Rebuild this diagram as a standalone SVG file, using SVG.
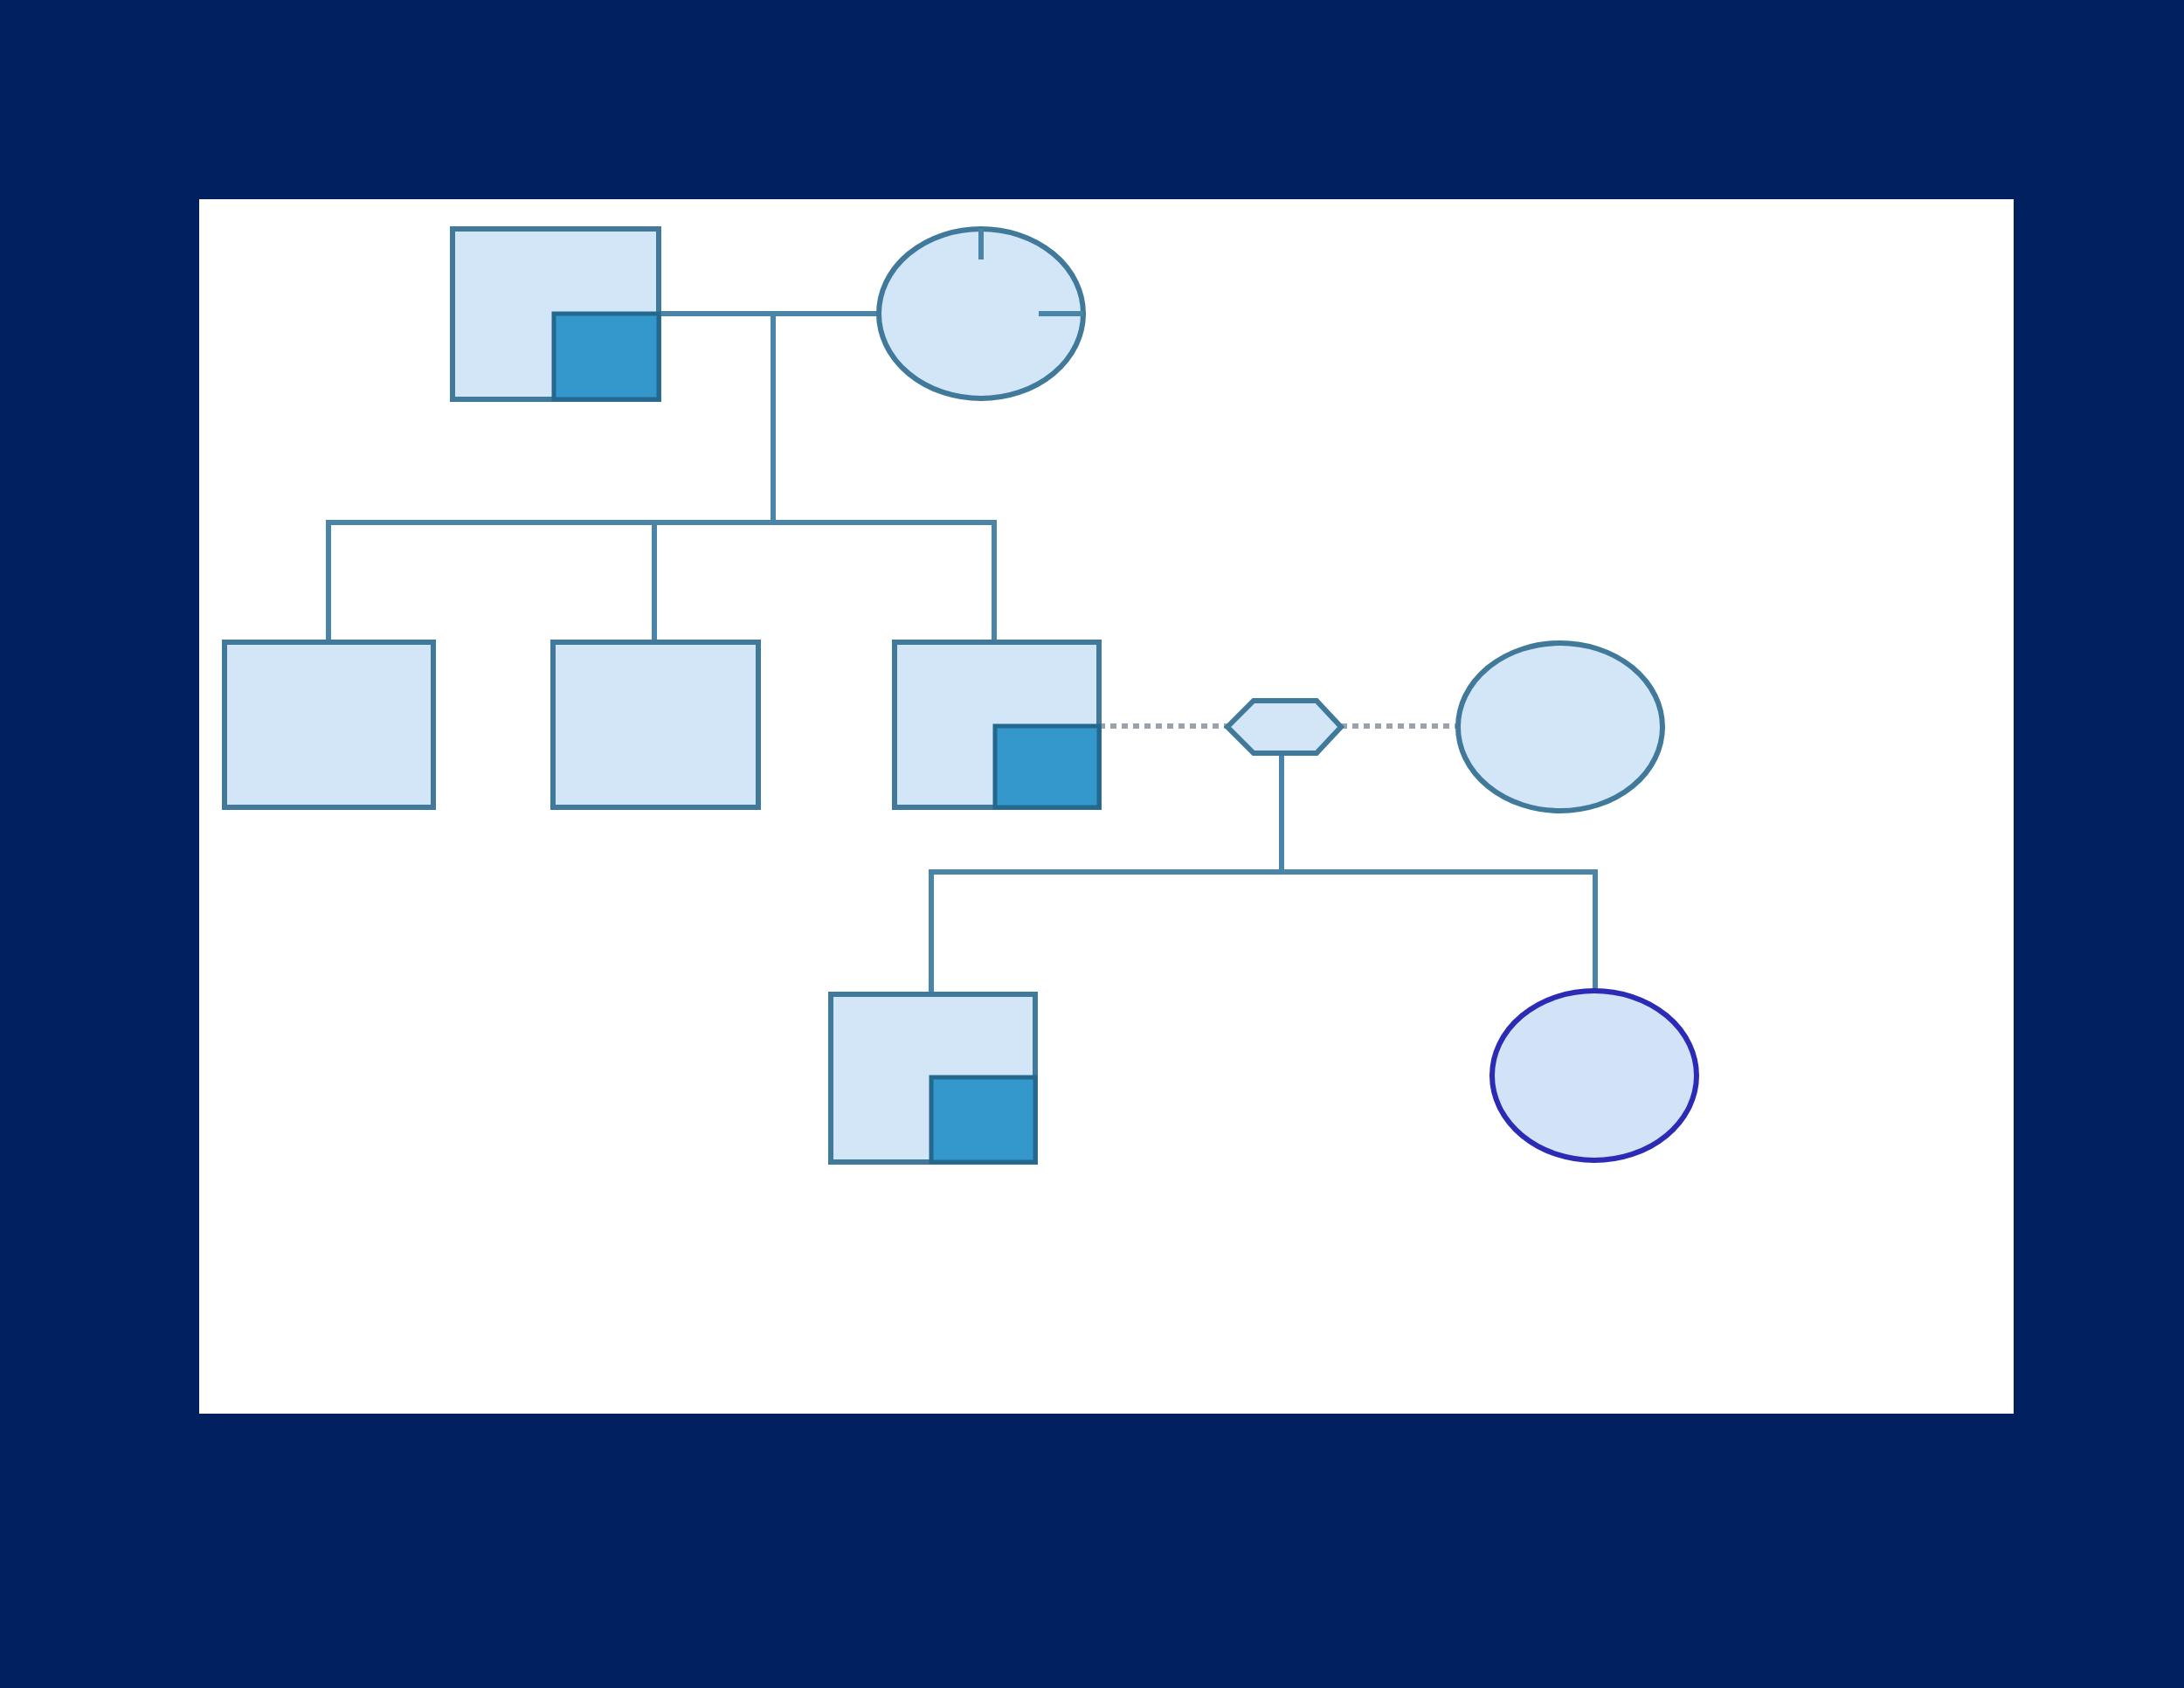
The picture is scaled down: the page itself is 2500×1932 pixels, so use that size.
<svg xmlns="http://www.w3.org/2000/svg" width="2500" height="1932" viewBox="0 0 2500 1932">
<style>
.sym{fill:#d2e6f7;stroke:#41799a;stroke-width:6}
.aff{fill:#3598cc;stroke:#25688e;stroke-width:5}
.ln{stroke:#4a85a8;stroke-width:6;fill:none}
.dot{stroke:#9aa3ab;stroke-width:6;stroke-dasharray:7 6;fill:none}
</style>
<rect x="0" y="0" width="2500" height="1932" fill="#00205f"/>
<rect x="228" y="228" width="2077" height="1390" fill="#ffffff"/>
<g id="connectors">
<line class="ln" x1="754" y1="359" x2="1006" y2="359"/>
<line class="ln" x1="885" y1="359" x2="885" y2="598"/>
<polyline class="ln" points="376,735 376,598 1138,598 1138,735"/>
<line class="ln" x1="749" y1="598" x2="749" y2="735"/>
<line class="dot" x1="1258" y1="831" x2="1405" y2="831"/>
<line class="dot" x1="1535" y1="831" x2="1669" y2="831"/>
<line class="ln" x1="1467" y1="862" x2="1467" y2="998"/>
<polyline class="ln" points="1066,1138 1066,998 1826,998 1826,1135"/>
</g>
<g id="father">
<rect class="sym" x="518" y="262" width="236" height="195"/>
<rect class="aff" x="634" y="359" width="120" height="98"/>
</g>
<g id="mother">
<ellipse class="sym" cx="1123" cy="359" rx="117" ry="97"/>
<line class="ln" x1="1123" y1="262" x2="1123" y2="297"/>
<line class="ln" x1="1189" y1="359" x2="1240" y2="359"/>
</g>
<g id="child1"><rect class="sym" x="257" y="735" width="239" height="189"/></g>
<g id="child2"><rect class="sym" x="633" y="735" width="235" height="189"/></g>
<g id="child3">
<rect class="sym" x="1024" y="735" width="234" height="189"/>
<rect class="aff" x="1139" y="831" width="119" height="93"/>
</g>
<g id="union"><polygon class="sym" points="1405,832 1435,802 1507,802 1535,832 1507,862 1435,862"/></g>
<g id="partner"><ellipse class="sym" cx="1786" cy="832" rx="117" ry="96"/></g>
<g id="grandson">
<rect class="sym" x="951" y="1138" width="234" height="192"/>
<rect class="aff" x="1066" y="1233" width="119" height="97"/>
</g>
<g id="granddaughter"><ellipse cx="1825" cy="1231" rx="117" ry="97" fill="#d2e2f7" stroke="#2b2bb5" stroke-width="6"/></g>
</svg>
